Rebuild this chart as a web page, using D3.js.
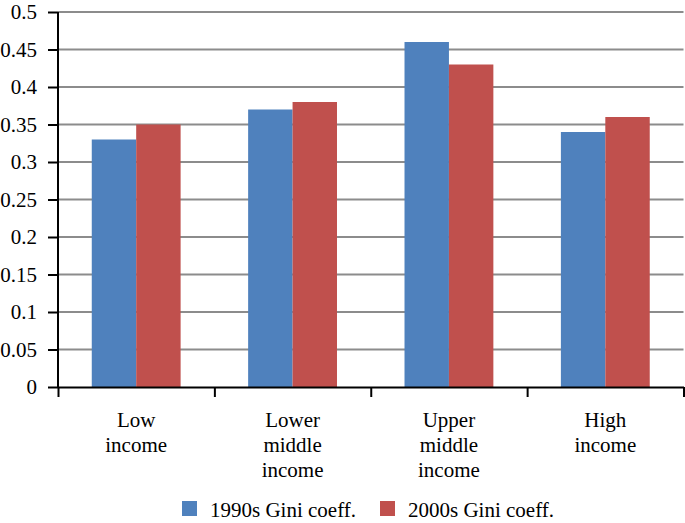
<!DOCTYPE html>
<html>
<head>
<meta charset="utf-8">
<script src="https://cdn.jsdelivr.net/npm/d3@7"></script>
<style>
  body { margin: 0; background: #fff; }
</style>
</head>
<body>
<div id="chart"></div>
<script>
// data
const categories = [["Low", "income"], ["Lower", "middle", "income"], ["Upper", "middle", "income"], ["High", "income"]];
const series = ["1990s Gini coeff.", "2000s Gini coeff."];
const gini1990s = [0.33, 0.37, 0.46, 0.34];
const gini2000s = [0.35, 0.38, 0.43, 0.36];
const yTicks = [0, 0.05, 0.1, 0.15, 0.2, 0.25, 0.3, 0.35, 0.4, 0.45, 0.5];

const width = 685,
      height = 523,
      margin = ({ top: 12, right: 1.5, bottom: 136, left: 58 });

const colors = ["#4f81bd", "#c0504d"];
const font = "Times New Roman";

let svg = d3.select("#chart")
    .append("svg")
    .attr("width", width)
    .attr("height", height)
    .attr("font-family", font);

let idx = d3.range(categories.length);

// one band per category
let x = d3.scaleBand()
    .domain(idx)
    .range([margin.left, width - margin.right])
    .padding(0);

// two bars inside each band
let xs = d3.scaleBand()
    .domain([0, 1])
    .range([0, x.bandwidth()])
    .paddingInner(0)
    .paddingOuter(0.76);

let y = d3.scaleLinear()
    .domain([0, 0.5])
    .range([height - margin.bottom, margin.top]);

// gridlines
svg.append("g")
    .selectAll("line")
    .data(yTicks.filter(d => d > 0))
    .join("line")
    .attr("x1", margin.left)
    .attr("x2", width - margin.right)
    .attr("y1", d => y(d))
    .attr("y2", d => y(d))
    .attr("stroke", "#8c8c8c")
    .attr("stroke-width", 2);

// bars
let rows = idx.map(i => [gini1990s[i], gini2000s[i]]);

let group = svg.selectAll(".grp")
    .data(rows)
    .join("g")
    .attr("class", "grp")
    .attr("transform", (d, i) => `translate(${x(i)},0)`);

group.selectAll("rect")
    .data(d => d)
    .join("rect")
    .attr("x", (d, j) => xs(j))
    .attr("width", xs.bandwidth())
    .attr("y", d => y(d))
    .attr("height", d => y(0) - y(d))
    .attr("fill", (d, j) => colors[j]);

// y axis
let yAxis = svg.append("g")
    .attr("transform", `translate(${margin.left},0)`)
    .call(d3.axisLeft(y).tickValues(yTicks).tickFormat(d => String(d)).tickSize(10).tickPadding(11));
yAxis.attr("font-family", font).attr("font-size", 21);
yAxis.selectAll("path, line").attr("stroke", "#000").attr("stroke-width", 2);
yAxis.select(".domain").attr("d", `M0,${y(0.5)}V${y(0)}`);
yAxis.selectAll("text")
    .attr("font-family", font)
    .attr("font-size", 21)
    .attr("fill", "#000");

// x axis, ticks on the band edges
let xEdge = d3.scaleLinear()
    .domain([0, categories.length])
    .range([margin.left, width - margin.right]);

let xAxis = svg.append("g")
    .attr("transform", `translate(0,${y(0)})`)
    .call(d3.axisBottom(xEdge).tickValues(d3.range(categories.length + 1)).tickFormat("").tickSize(10).tickSizeOuter(0));
xAxis.selectAll("path, line").attr("stroke", "#000").attr("stroke-width", 2);

// category labels
let lab = svg.append("g")
    .selectAll("text")
    .data(categories)
    .join("text")
    .attr("text-anchor", "middle")
    .attr("font-family", font)
    .attr("font-size", 21)
    .attr("fill", "#000")
    .attr("transform", (d, i) => `translate(${x(i) + x.bandwidth() / 2},${y(0) + 40})`);

lab.selectAll("tspan")
    .data(d => d)
    .join("tspan")
    .attr("x", 0)
    .attr("y", (d, k) => k * 25)
    .text(d => d);

// legend
let legendX = [182, 380];
let legend = svg.append("g")
    .selectAll("g")
    .data(series)
    .join("g")
    .attr("transform", (d, i) => `translate(${legendX[i]},501)`);

legend.append("rect")
    .attr("width", 15)
    .attr("height", 15)
    .attr("fill", (d, i) => colors[i]);

legend.append("text")
    .attr("x", 28)
    .attr("y", 16)
    .attr("font-family", font)
    .attr("font-size", 21)
    .attr("fill", "#000")
    .text(d => d);
</script>
</body>
</html>
